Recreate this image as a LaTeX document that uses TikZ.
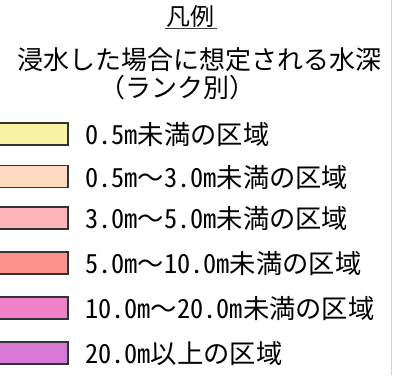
\documentclass[tikz,border=0pt]{standalone}
\usepackage{fontspec}
\newfontfamily\jp{Noto Sans CJK JP}
\newfontfamily\jph[CharacterWidth=Half]{Noto Sans CJK JP}
\definecolor{cA}{RGB}{245,245,165}
\definecolor{cB}{RGB}{255,217,192}
\definecolor{cC}{RGB}{255,180,185}
\definecolor{cD}{RGB}{255,145,140}
\definecolor{cE}{RGB}{240,128,200}
\definecolor{cF}{RGB}{215,120,215}
\definecolor{edge}{RGB}{51,51,51}
\tikzset{
  legbox/.style={draw=edge, line width=1.5pt, minimum width=70pt, minimum height=22pt, inner sep=0pt},
  legtext/.style={anchor=west, inner sep=0pt, font=\jp\fontsize{26.3}{26.3}\selectfont},
  headtext/.style={inner sep=0pt, font=\jp\fontsize{26}{26}\selectfont},
  titletext/.style={inner sep=0pt, font=\jp\fontsize{24}{24}\selectfont}
}
\begin{document}
\begin{tikzpicture}[x=1pt,y=-1pt]
\useasboundingbox (0,0) rectangle (393,375);
\fill[white] (0,0) rectangle (393,375);
\draw[gray!35, line width=1pt] (391.7,0) -- (391.7,375);
\node[titletext] (title) at (190,16.5) {凡例};
\coordinate (ulA) at (165,28.3);
\coordinate (ulB) at (217,28.3);
\draw[black!75, line width=1.3pt] (ulA) -- (ulB);
\node[headtext] (head1) at (199,60) {浸水した場合に想定される水深};
\node[headtext] (head2) at (177,88) {（ランク別）};
\node[legbox, fill=cA] (b1) at (33,134) {};
\node[legbox, fill=cB] (b2) at (33,176.3) {};
\node[legbox, fill=cC] (b3) at (33,218) {};
\node[legbox, fill=cD] (b4) at (33,263) {};
\node[legbox, fill=cE] (b5) at (33,308) {};
\node[legbox, fill=cF] (b6) at (33,353) {};
\node[legtext] (t1) at (85,135) {{\jph 0.5m}未満の区域};
\node[legtext] (t2) at (85,177.3) {{\jph 0.5m}～{\jph 3.0m}未満の区域};
\node[legtext] (t3) at (85,219) {{\jph 3.0m}～{\jph 5.0m}未満の区域};
\node[legtext] (t4) at (85,264) {{\jph 5.0m}～{\jph 10.0m}未満の区域};
\node[legtext] (t5) at (85,309) {{\jph 10.0m}～{\jph 20.0m}未満の区域};
\node[legtext] (t6) at (85,354) {{\jph 20.0m}以上の区域};
\end{tikzpicture}
\end{document}
